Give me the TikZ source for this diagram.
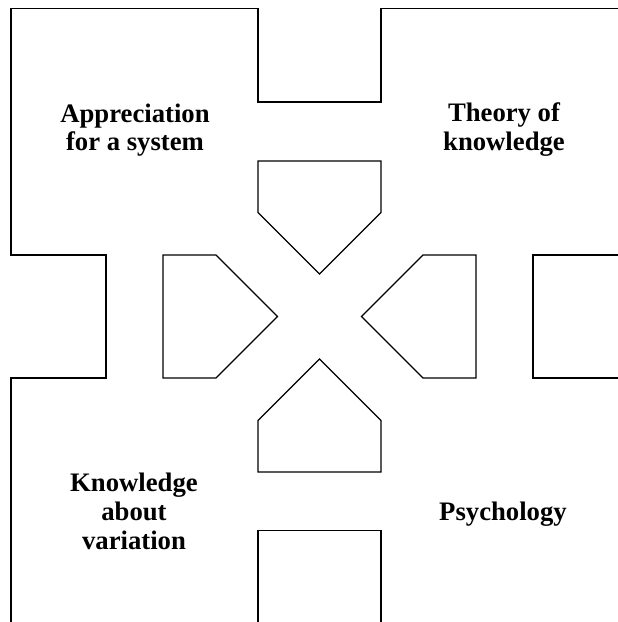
\documentclass[tikz,border=0pt]{standalone}
\usepackage{fontspec}
\setmainfont{Liberation Serif}
\tikzset{
  outline/.style={draw=black, line width=1.1pt, line join=miter},
  label/.style={font=\fontsize{26.7}{28.7}\selectfont\bfseries, align=center, inner sep=0pt}
}
\begin{document}
\begin{tikzpicture}[x=1pt,y=-1pt]
\useasboundingbox (0,0) rectangle (618,622);
% outer outline (top and left)
\draw[outline] (618,8.5) -- (381,8.5) -- (381,102) -- (258,102) -- (258,8.5) -- (11,8.5)
  -- (11,255) -- (106,255) -- (106,378) -- (11,378) -- (11,622);
% right block
\draw[outline] (618,255) -- (533,255) -- (533,378) -- (618,378);
% bottom block
\draw[outline] (258,622) -- (258,530.5) -- (381,530.5) -- (381,622);
% pentagons
\draw[outline] (258,161) -- (381,161) -- (381,212.5) -- (319.5,274) -- (258,212.5) -- cycle;
\draw[outline] (258,472) -- (381,472) -- (381,420.5) -- (319.5,359) -- (258,420.5) -- cycle;
\draw[outline] (163,255) -- (216,255) -- (277.5,316.5) -- (216,378) -- (163,378) -- cycle;
\draw[outline] (476,255) -- (423,255) -- (361.5,316.5) -- (423,378) -- (476,378) -- cycle;
% labels
\node[label] (appr) at (135,130) {Appreciation\\for a system};
\node[label] (theo) at (504,129.5) {Theory of\\knowledge};
\node[label] (know) at (134,511.5) {Knowledge\\about\\variation};
\node[label, anchor=base] (psych) at (503,520.3) {Psychology};
\end{tikzpicture}
\end{document}
